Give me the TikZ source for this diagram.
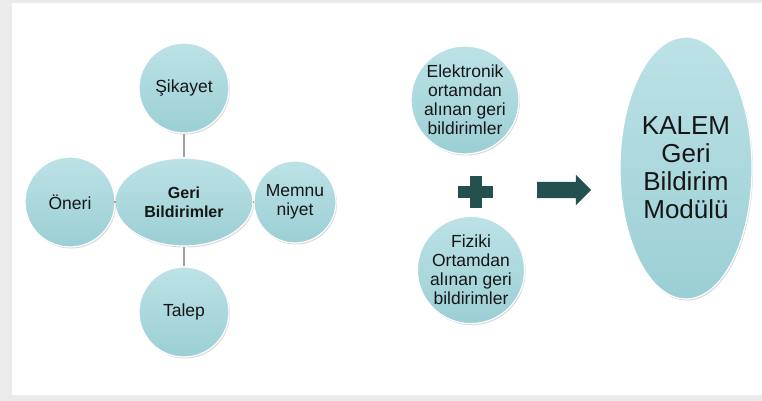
\documentclass[tikz,border=0pt]{standalone}
\usepackage{fontspec}
\setmainfont{Liberation Sans}
\usetikzlibrary{positioning,shapes.geometric,shapes.arrows,shadows}
\definecolor{bubblelight}{HTML}{BCE2E6}
\definecolor{bubbledark}{HTML}{9BCFD5}
\definecolor{darkteal}{HTML}{24504F}
\definecolor{linkgray}{HTML}{A0A0A0}
\definecolor{textdark}{HTML}{161616}
\definecolor{framegray}{HTML}{EBEBEB}

\begin{document}
\begin{tikzpicture}[x=1pt,y=-1pt,
    bubble/.style={circle,inner sep=0pt,top color=bubblelight,bottom color=bubbledark,
      draw=white,line width=1.2pt,
      drop shadow={opacity=0.3,shadow xshift=1pt,shadow yshift=-1.5pt},
      text=textdark,align=center,font=\fontsize{17.5}{19}\selectfont},
    link/.style={draw=linkgray,line width=1.2pt}]
    % frame
    \useasboundingbox (0,0) rectangle (762,401);
    \fill[framegray] (0,0) rectangle (762,401);
    \fill[white] (12,3) rectangle (762,395);

    % left: feedback types
    \node[bubble,ellipse,minimum width=138pt,minimum height=88pt,
      font=\fontsize{16}{19}\selectfont\bfseries] (gb) at (184,202) {Geri\\Bildirimler};
    \node[bubble,minimum size=90pt] (sik) at (184,88) {Şikayet};
    \node[bubble,minimum size=90pt] (oneri) at (70,202) {Öneri};
    \node[bubble,minimum size=82pt] (memnu) at (295,202) {Memnu\\niyet};
    \node[bubble,minimum size=90pt] (talep) at (184,312) {Talep};
    \draw[link] (sik) -- (gb);
    \draw[link] (talep) -- (gb);
    \draw[link] (oneri) -- (gb);
    \draw[link] (memnu) -- (gb);

    % right: sources and module
    \node[bubble,minimum size=108pt] (elek) at (465,100) {Elektronik\\ortamdan\\alınan geri\\bildirimler};
    \node[bubble,minimum size=104pt] (fiz) at (471,270) {Fiziki\\Ortamdan\\alınan geri\\bildirimler};
    \fill[darkteal] (458,186) rectangle (493,198);
    \fill[darkteal] (469.5,176) rectangle (481.5,208);
    \node[single arrow,fill=darkteal,inner sep=8pt,minimum height=54pt,
      single arrow head extend=7pt,single arrow head indent=0pt] (arr) at (560,190) {};
    \node[bubble,ellipse,minimum width=132pt,minimum height=262pt,
      font=\fontsize{26}{28}\selectfont] (kalem) at (686,168) {KALEM\\Geri\\Bildirim\\Modülü};
\end{tikzpicture}
\end{document}
